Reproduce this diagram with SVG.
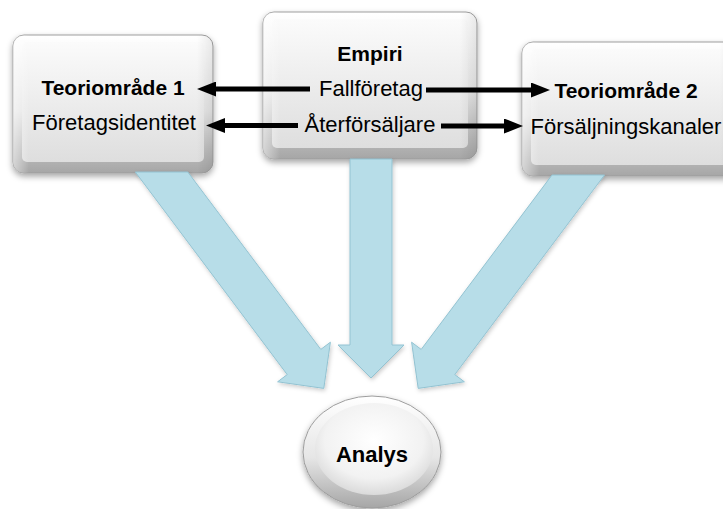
<svg xmlns="http://www.w3.org/2000/svg" width="723" height="509" viewBox="0 0 723 509">
  <defs>
    <linearGradient id="bevel" x1="0" y1="0" x2="0" y2="1">
      <stop offset="0" stop-color="#ffffff"/>
      <stop offset="0.55" stop-color="#e6e6e6"/>
      <stop offset="1" stop-color="#a6a6a6"/>
    </linearGradient>
    <linearGradient id="face" x1="0" y1="0" x2="0" y2="1">
      <stop offset="0" stop-color="#fbfbfb"/>
      <stop offset="1" stop-color="#dedede"/>
    </linearGradient>
    <linearGradient id="side" x1="0" y1="0" x2="1" y2="0">
      <stop offset="0" stop-color="#ffffff" stop-opacity="0.5"/>
      <stop offset="0.08" stop-color="#ffffff" stop-opacity="0"/>
      <stop offset="0.92" stop-color="#000000" stop-opacity="0"/>
      <stop offset="1" stop-color="#000000" stop-opacity="0.08"/>
    </linearGradient>
    <radialGradient id="ellFace" cx="0.5" cy="0.4" r="0.6">
      <stop offset="0" stop-color="#ffffff"/>
      <stop offset="0.7" stop-color="#f2f2f2"/>
      <stop offset="1" stop-color="#dadada"/>
    </radialGradient>
    <filter id="sh" x="-10%" y="-10%" width="125%" height="130%">
      <feDropShadow dx="0" dy="3" stdDeviation="3" flood-color="#000" flood-opacity="0.35"/>
    </filter>
    <filter id="shb" x="-10%" y="-10%" width="125%" height="125%">
      <feDropShadow dx="1" dy="2" stdDeviation="2" flood-color="#000" flood-opacity="0.2"/>
    </filter>
    <marker id="ah" viewBox="0 0 19 15" refX="1" refY="7.5" markerWidth="19" markerHeight="15" markerUnits="userSpaceOnUse" orient="auto">
      <path d="M0,0 L19,7.5 L0,15 Z" fill="#000"/>
    </marker>
    <style>
      .outer { fill: url(#bevel); stroke: #9d9d9d; stroke-width: 1; filter: url(#sh); }
      .inner { fill: url(#face); }
      .shade { fill: url(#side); }
      .b { font-family: "Liberation Sans", Arial, sans-serif; font-weight: bold; font-size: 21px; fill: #000; text-anchor: middle; }
      .r { font-family: "Liberation Sans", Arial, sans-serif; font-size: 22px; fill: #000; text-anchor: middle; }
      .blk { stroke: #000; stroke-width: 5; fill: none; marker-end: url(#ah); }
      .blue { fill: #b7dde8; stroke: #93c3d2; stroke-width: 1; filter: url(#shb); }
    </style>
  </defs>

  <g id="node-teori1">
    <rect class="outer" x="13" y="35" width="200" height="138" rx="11"/>
    <rect class="inner" x="22" y="42" width="182" height="120" rx="5"/>
    <rect class="shade" x="13" y="35" width="200" height="138" rx="11"/>
    <text class="b" x="113" y="95">Teoriområde 1</text>
    <text class="r" x="114" y="130">Företagsidentitet</text>
  </g>

  <g id="node-empiri">
    <rect class="outer" x="263" y="12" width="214" height="147" rx="11"/>
    <rect class="inner" x="272" y="19" width="196" height="129" rx="5"/>
    <rect class="shade" x="263" y="12" width="214" height="147" rx="11"/>
    <text class="b" x="370" y="61">Empiri</text>
    <text class="r" x="371" y="96">Fallföretag</text>
    <text class="r" x="370" y="132">Återförsäljare</text>
  </g>

  <g id="node-teori2">
    <rect class="outer" x="522" y="42" width="215" height="134" rx="11"/>
    <rect class="inner" x="531" y="49" width="197" height="116" rx="5"/>
    <rect class="shade" x="522" y="42" width="215" height="134" rx="11"/>
    <text class="b" x="626" y="98">Teoriområde 2</text>
    <text class="r" x="626" y="134">Försäljningskanaler</text>
  </g>

  <g id="node-analys">
    <ellipse cx="372" cy="452" rx="69" ry="56" fill="url(#bevel)" stroke="#9d9d9d" stroke-width="1" filter="url(#sh)"/>
    <ellipse cx="374" cy="449" rx="59" ry="46" fill="url(#ellFace)"/>
    <text class="b" x="372" y="462" style="font-size:22px">Analys</text>
  </g>

  <g id="connectors">
    <polygon class="blue" points="135.3,172 187.8,172 320.8,349.4 330.4,342.2 323.8,388.4 277.6,381.8 287.2,374.6"/>
    <polygon class="blue" points="350,159 392,159 392,345 404,345 371,378 338,345 350,345"/>
    <polygon class="blue" points="604.5,175 552,175 421.2,349.4 411.6,342.2 418.2,388.4 464.4,381.8 454.8,374.6"/>
    <line class="blk" x1="310" y1="89" x2="215" y2="89"/>
    <line class="blk" x1="298" y1="125.5" x2="224" y2="125.5"/>
    <line class="blk" x1="426" y1="90" x2="532" y2="90"/>
    <line class="blk" x1="441" y1="126" x2="505" y2="126"/>
  </g>
</svg>
